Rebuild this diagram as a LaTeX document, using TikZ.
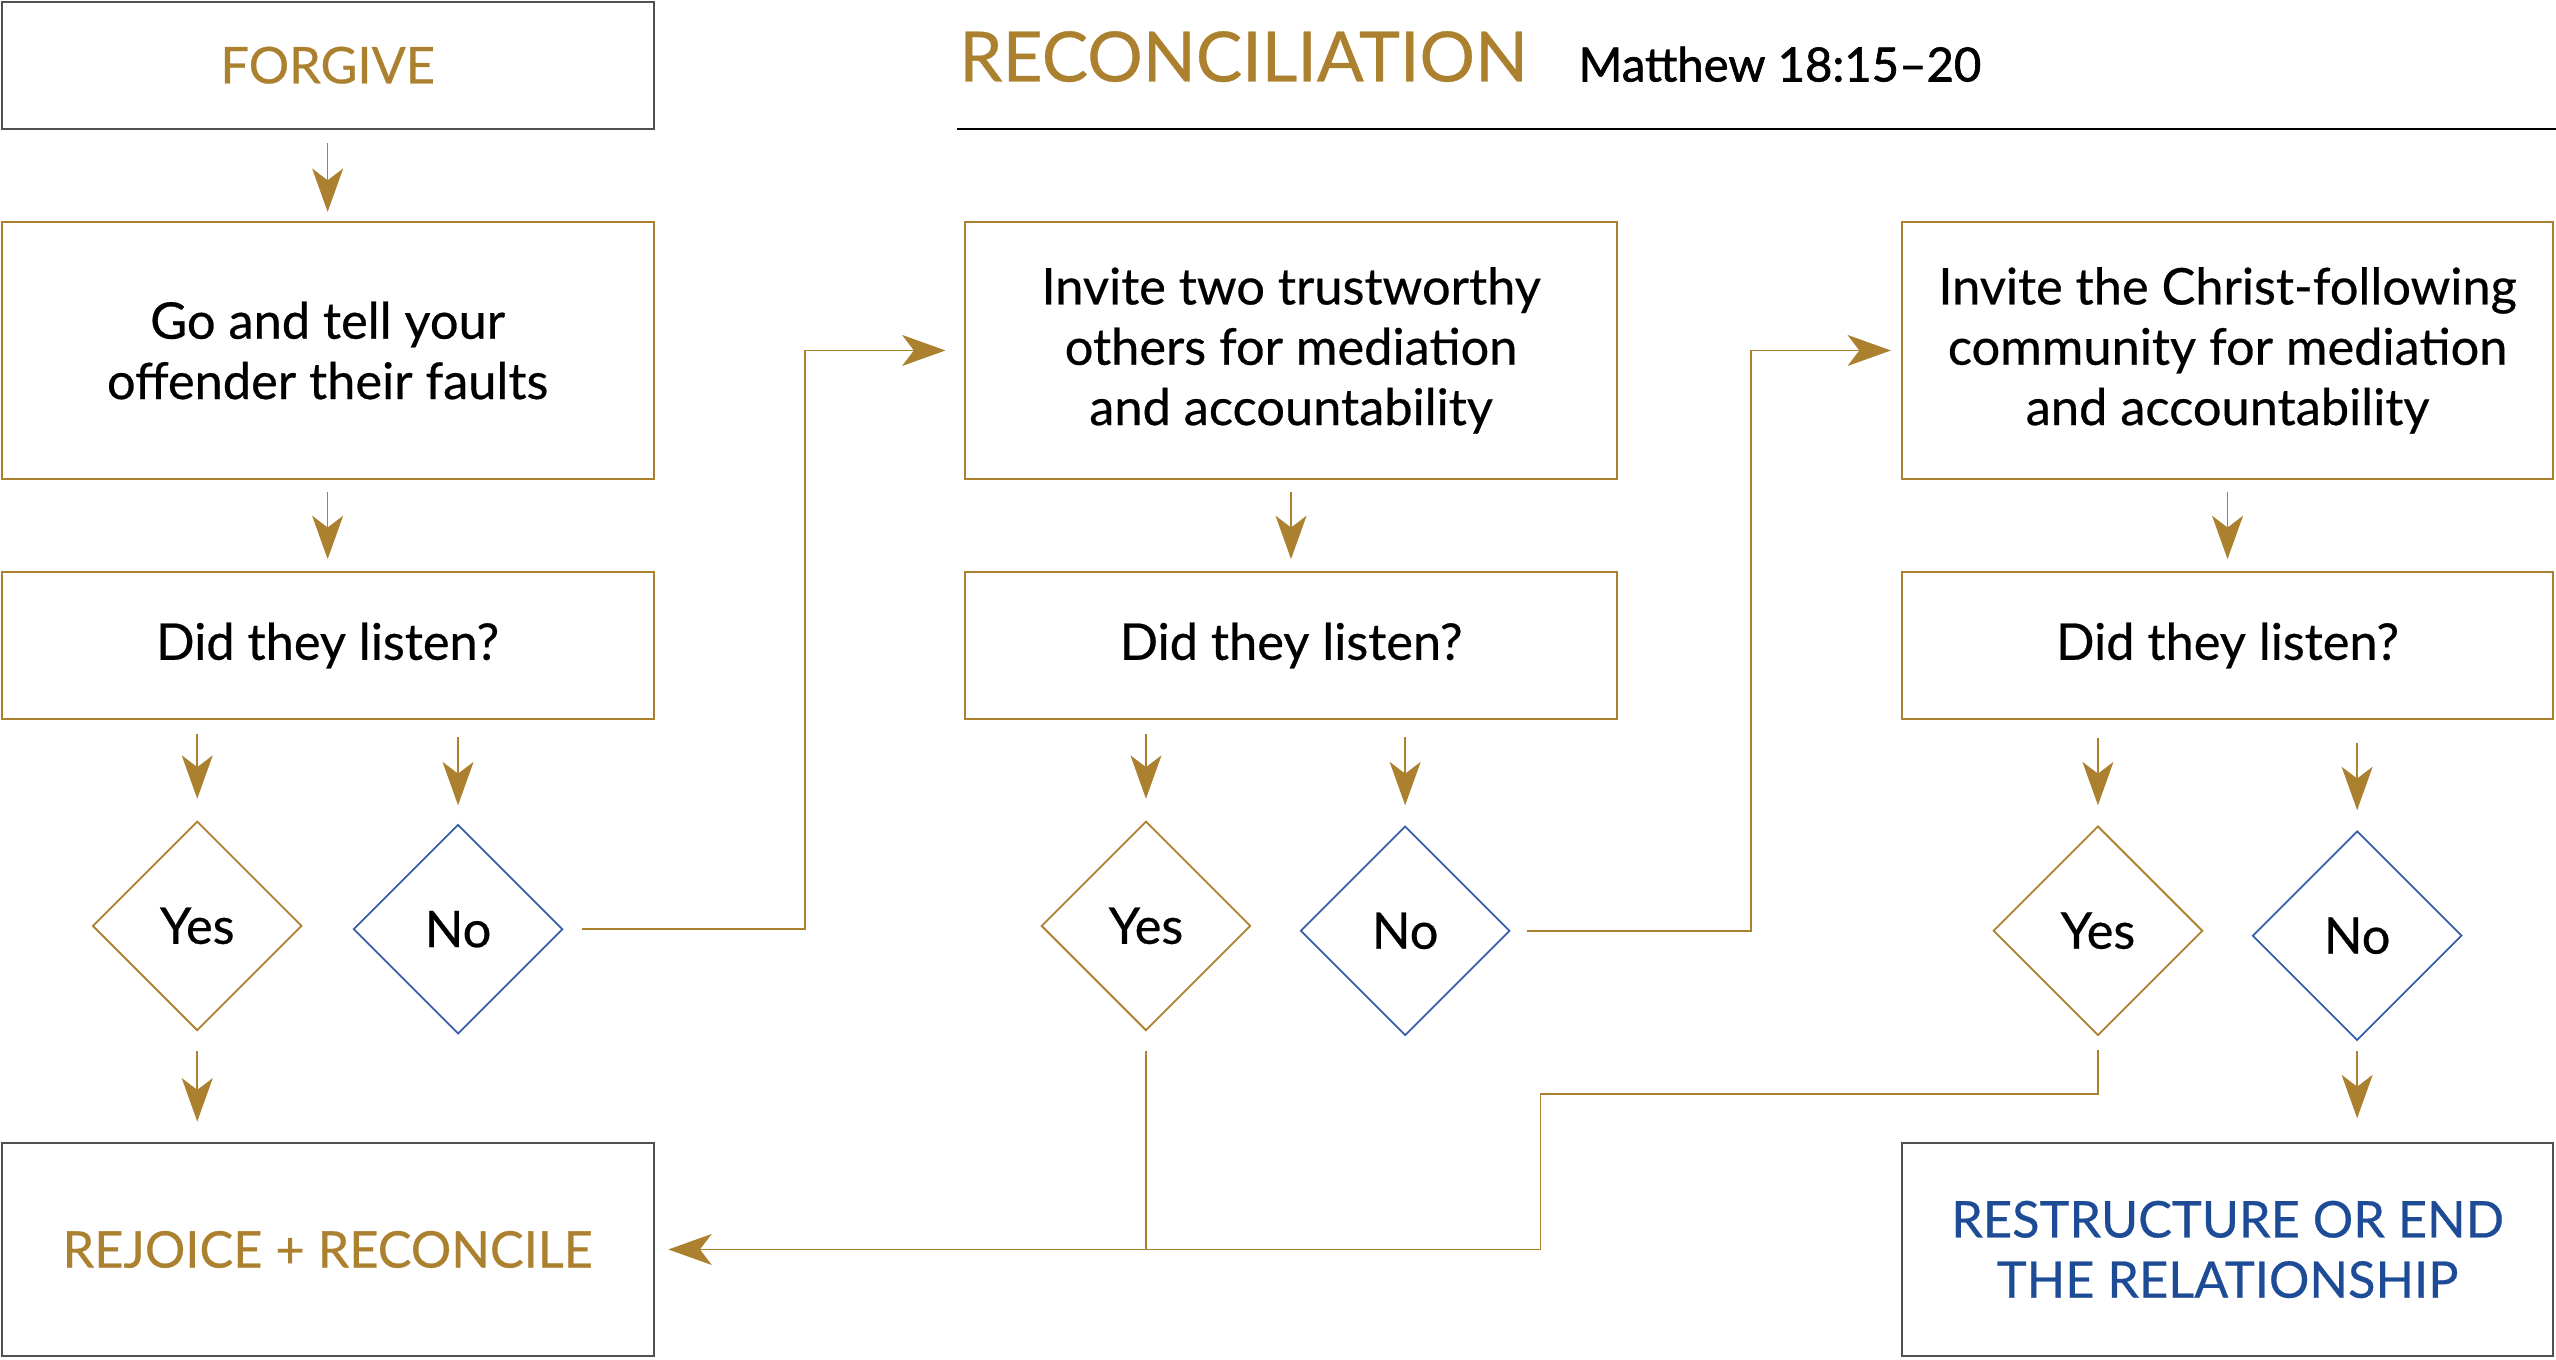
\documentclass[tikz,border=0pt]{standalone}
\usepackage{fontspec}
\setmainfont{Lato}[FakeBold=0.5]
\newfontfamily\reffont{Lato}[FakeBold=1.3]
\usetikzlibrary{shapes.geometric,arrows.meta}
\definecolor{gold}{RGB}{171,128,46}
\definecolor{navy}{RGB}{30,75,150}
\definecolor{dblue}{RGB}{55,95,170}
\definecolor{dgray}{RGB}{80,80,80}
\begin{document}
\begin{tikzpicture}[x=0.5pt,y=-0.5pt,
  txt/.style={font=\fontsize{15.5}{18.5}\selectfont},
  box/.style={draw=gold, line width=0.55pt, rectangle, inner sep=0pt, outer sep=0pt,
              align=center, minimum width=200pt, txt},
  bigbox/.style={box, minimum height=79pt},
  qbox/.style={box, minimum height=45pt},
  endbox/.style={box, draw=dgray, minimum height=65.5pt},
  dia/.style={diamond, aspect=1, minimum size=64pt, inner sep=0pt, outer sep=0pt,
              line width=0.55pt, txt},
  ydia/.style={dia, draw=gold},
  ndia/.style={dia, draw=dblue},
  conn/.style={draw=gold, line width=0.5pt},
  arr/.style={conn, -{Stealth[length=13.3pt, width=9.5pt, inset=3.6pt]}},
]
\useasboundingbox (0,0) rectangle (1568,834);

% title
\node[anchor=base west, inner sep=0pt, text=gold, font=\fontsize{21.3}{25}\selectfont] (title) at (588,50) {RECONCILIATION};
\node[anchor=base west, inner sep=0pt, font=\reffont\fontsize{14.5}{17}\selectfont] (ref) at (968,50) {Matthew 18:15–20};
\coordinate (r1) at (587,79);
\coordinate (r2) at (1568,79);
\draw[line width=0.7pt] (r1) -- (r2);

% column 1
\node[box, draw=dgray, minimum height=39pt, text=gold] (forgive) at (201,40) {FORGIVE};
\node[bigbox] (b1) at (201,215) {Go and tell your\\offender their faults};
\node[qbox] (l1) at (201,396) {Did they listen?};
\node[ydia] (y1) at (121,568) {Yes};
\node[ndia] (n1) at (281,570) {No};
\node[endbox, text=gold] (rej) at (201,766.5) {REJOICE + RECONCILE};

% column 2
\node[bigbox] (b2) at (792,215) {Invite two trustworthy\\others for mediation\\and accountability};
\node[qbox] (l2) at (792,396) {Did they listen?};
\node[ydia] (y2) at (703,568) {Yes};
\node[ndia] (n2) at (862,571) {No};

% column 3
\node[bigbox, minimum width=199.5pt] (b3) at (1366.5,215) {Invite the Christ-following\\community for mediation\\and accountability};
\node[qbox, minimum width=199.5pt] (l3) at (1366.5,396) {Did they listen?};
\node[ydia] (y3) at (1287,571) {Yes};
\node[ndia] (n3) at (1446,574) {No};
\node[endbox, minimum width=199.5pt, text=navy] (res) at (1366.5,766.5) {RESTRUCTURE OR END\\THE RELATIONSHIP};

\coordinate (m1) at (494,0);
\coordinate (m2) at (1074,0);
\coordinate (m3) at (945,0);

% vertical arrows
\draw[arr, shorten <=4.5pt, shorten >=3pt] (forgive) -- (b1);
\draw[arr, shorten <=4pt, shorten >=4pt] (b1) -- (l1);
\draw[arr, shorten <=4pt, shorten >=4pt] (b2) -- (l2);
\draw[arr, shorten <=4pt, shorten >=4pt] (b3.south -| l3) -- (l3);
\draw[arr, shorten <=4.5pt, shorten >=7pt] (l1.south -| y1) -- (y1.north);
\draw[arr, shorten <=5.5pt, shorten >=6pt] (l1.south -| n1) -- (n1.north);
\draw[arr, shorten <=4.5pt, shorten >=7pt] (l2.south -| y2) -- (y2.north);
\draw[arr, shorten <=5.5pt, shorten >=6.5pt] (l2.south -| n2) -- (n2.north);
\draw[arr, shorten <=6pt, shorten >=6.5pt] (l3.south -| y3) -- (y3.north);
\draw[arr, shorten <=7.5pt, shorten >=6.5pt] (l3.south -| n3) -- (n3.north);
\draw[arr, shorten <=6.5pt, shorten >=6.5pt] (y1.south) -- (y1.south |- rej.north);
\draw[arr, shorten <=3.5pt, shorten >=7.5pt] (n3.south) -- (n3.south |- res.north);

% No -> next step
\draw[arr, shorten <=6pt, shorten >=6pt] (n1.east) -- (n1.east -| m1) |- (b2.west);
\draw[arr, shorten <=5.5pt, shorten >=3.5pt] (n2.east) -- (n2.east -| m2) |- (b3.west);

% Yes -> rejoice
\draw[conn, shorten <=6.5pt] (y2.south) -- (y2.south |- rej.east);
\draw[arr, shorten <=4.5pt, shorten >=4.5pt] (y3.south) -- ++(0,-18pt) -| (m3 |- rej.east) -- (rej.east);
\end{tikzpicture}
\end{document}
